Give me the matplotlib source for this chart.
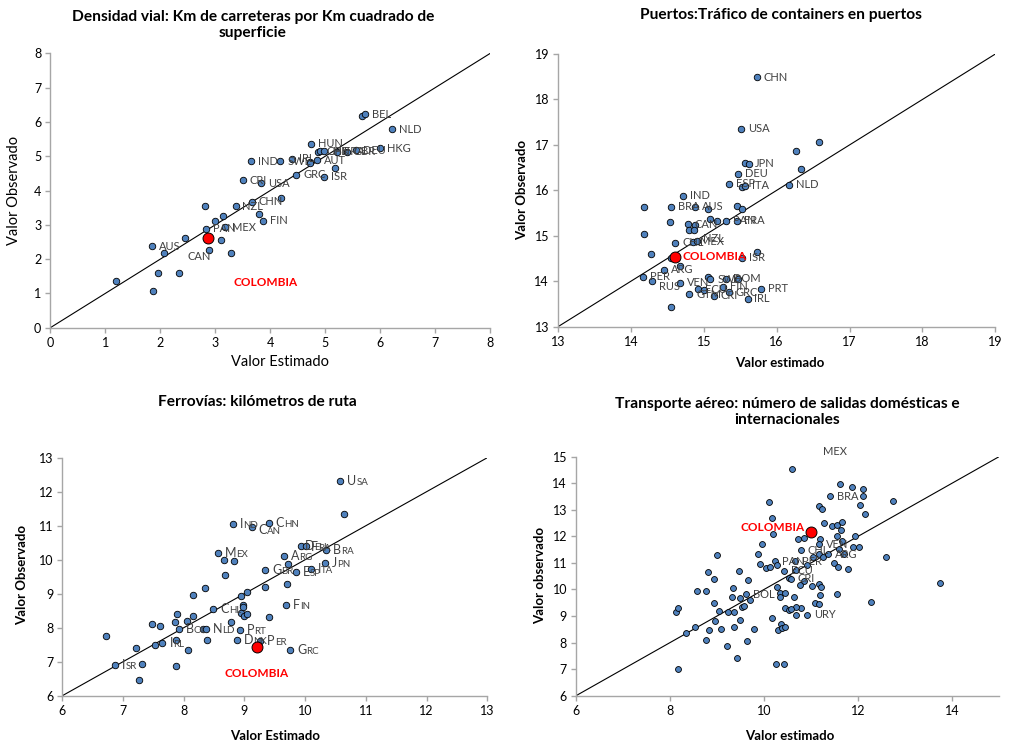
import matplotlib
matplotlib.use("Agg")
import matplotlib.pyplot as plt

plt.rcParams['font.family'] = ['Lato', 'DejaVu Sans']

# ---------------- Densidad vial ----------------
dv_x = [1.19, 1.86, 1.85, 1.95, 2.07, 2.34, 2.45, 2.81, 2.83, 2.89, 2.99, 3.10, 3.14, 3.18,
        3.28, 3.38, 3.50, 3.65, 3.67, 3.80, 3.86, 3.84, 4.20, 4.18, 4.40, 4.47, 4.72, 4.73,
        4.85, 4.98, 5.17, 4.74, 4.86, 4.90, 4.98, 5.22, 5.39, 5.56, 6.00, 5.67, 5.72, 6.21]
dv_y = [1.36, 1.07, 2.38, 1.59, 2.17, 1.59, 2.62, 3.54, 2.88, 2.27, 3.12, 2.55, 3.25, 2.93,
        2.18, 3.54, 4.30, 4.85, 3.66, 3.31, 3.12, 4.21, 3.79, 4.85, 4.92, 4.46, 4.84, 4.79,
        4.88, 4.40, 4.65, 5.36, 5.12, 5.15, 5.15, 5.13, 5.13, 5.18, 5.23, 6.17, 6.23, 5.78]
dv_lab = ['', '', 'AUS', '', '', '', '', '', 'PAN', 'CAN', '', '', '', 'MEX',
          '', '', 'CRI', 'IND', 'NZL', '', 'FIN', 'USA', 'CHN', 'SWE', 'IRL', 'GRC', '', '',
          'AUT', 'ISR', '', 'HUN', '', 'CHE', 'JPN', 'FRA', 'GBR', 'DEU', 'HKG', '', 'BEL', 'NLD']
dv_col = (2.86, 2.62)

# ---------------- Puertos ----------------
pu_x = [15.73, 15.51, 15.57, 15.62, 15.47, 15.34, 15.53, 15.57, 16.26, 16.58, 16.34, 16.17,
        14.71, 14.18, 14.55, 14.88, 15.06, 15.46, 15.53, 14.54, 14.78, 14.88, 14.80, 14.87,
        15.09, 15.18, 15.31, 15.46, 14.18, 14.61, 14.85, 14.90, 14.27, 14.55, 15.73, 15.52,
        14.67, 14.46, 14.16, 14.29, 14.67, 15.06, 15.09, 15.30, 15.47, 15.26, 14.92, 15.00,
        14.80, 15.14, 15.34, 15.78, 15.60, 14.55]
pu_y = [18.49, 17.35, 16.60, 16.58, 16.36, 16.14, 16.07, 16.10, 16.87, 17.07, 16.48, 16.12,
        15.88, 15.64, 15.64, 15.64, 15.59, 15.66, 15.60, 15.30, 15.25, 15.24, 15.13, 15.13,
        15.37, 15.33, 15.33, 15.33, 15.05, 14.85, 14.87, 14.89, 14.59, 14.52, 14.65, 14.52,
        14.34, 14.25, 14.10, 14.01, 13.97, 14.09, 14.04, 14.05, 14.06, 13.88, 13.82, 13.81,
        13.71, 13.68, 13.76, 13.84, 13.61, 13.43]
pu_lab = ['CHN', 'USA', '', 'JPN', 'DEU', 'ESP', '', 'ITA', '', '', '', 'NLD',
          'IND', '', 'BRA', 'AUS', '', '', '', '', 'CAN', '', '', '',
          '', '', 'PAN', 'FRA', '', 'CHL', 'MEX', 'NZL', '', '', '', 'ISR',
          '', 'ARG', 'PER', 'RUS', 'VEN', '', 'SWE', 'DOM', '', 'FIN', 'ECU', '',
          'GTM', 'CRI', 'GRC', 'PRT', 'IRL', '']
pu_col = (14.60, 14.54)

# ---------------- Ferrovías ----------------
fe_x = [6.72, 6.87, 7.22, 7.27, 7.31, 7.48, 7.53, 7.61, 7.65, 7.86, 7.89, 7.92, 7.88, 7.87,
        8.06, 8.07, 8.16, 8.16, 8.35, 8.32, 8.37, 8.38, 8.49, 8.56, 8.68, 8.67, 8.81, 8.83,
        8.78, 8.87, 8.92, 8.94, 8.98, 8.98, 8.95, 8.99, 9.04, 9.04, 9.12, 9.40, 9.26, 9.34,
        9.34, 9.40, 9.65, 9.72, 9.85, 10.09, 10.33, 9.70, 9.69, 9.75, 9.93, 10.01, 10.34,
        10.58, 10.64]
fe_y = [7.76, 6.90, 7.40, 6.45, 6.92, 8.12, 7.49, 8.04, 7.56, 8.18, 8.39, 7.95, 7.65, 6.88,
        8.20, 7.34, 8.95, 8.34, 9.16, 7.95, 7.96, 7.65, 8.56, 10.19, 9.55, 9.99, 11.05, 9.97,
        8.16, 7.65, 7.94, 8.94, 8.67, 8.60, 8.42, 8.34, 8.40, 9.06, 10.97, 11.08, 7.60, 9.69,
        9.21, 8.31, 10.12, 9.88, 9.63, 9.73, 9.89, 9.28, 8.68, 7.34, 10.41, 10.41, 10.29,
        12.32, 11.35]
fe_lab = ['', 'ISR', '', '', '', '', '', '', 'IRL', '', '', 'BOL', '', '',
          '', '', '', '', '', '', 'NLD', '', 'CHL', 'MEX', '', '', 'IND', '',
          '', 'DNK', 'PRT', '', '', '', '', '', '', '', 'CAN', 'CHN', 'PER', 'GBR',
          '', '', 'ARG', '', 'ESP', 'ITA', 'JPN', '', 'FIN', 'GRC', 'DEU', 'FRA', 'BRA',
          'USA', '']
fe_col = (9.20, 7.44)

# ---------------- Transporte aéreo ----------------
ae_x = [8.13, 8.18, 8.17, 8.33, 8.53, 8.58, 8.76, 8.77, 8.81, 8.84, 8.93, 8.94, 8.96, 9.00,
        9.04, 9.09, 9.21, 9.24, 9.32, 9.35, 9.36, 9.37, 9.42, 9.47, 9.49, 9.50, 9.53, 9.58,
        9.62, 9.64, 9.67, 9.70, 9.79, 9.87, 9.92, 9.96, 10.04, 10.10, 10.13, 10.16, 10.18,
        10.20, 10.23, 10.26, 10.27, 10.27, 10.30, 10.34, 10.34, 10.36, 10.38, 10.42, 10.43,
        10.44, 10.45, 10.45, 10.53, 10.54,
        10.60, 11.62, 11.87, 12.11, 12.10, 11.41, 12.74, 12.04, 11.18, 11.23, 12.15, 11.27,
        11.45, 11.55, 11.67, 11.64, 10.73, 10.86, 11.19, 11.56, 11.94, 11.67, 11.18, 11.60,
        11.90, 12.03, 10.78, 11.18, 11.26, 11.37, 11.71, 12.59, 11.04, 10.91, 10.67, 11.50,
        11.58, 11.79, 10.68, 10.57, 10.86, 10.77, 11.03, 11.16, 11.21, 11.19, 11.56, 12.28,
        13.75, 11.09, 11.18, 10.79, 10.68, 10.57, 10.92, 10.69, 10.64]
ae_y = [9.14, 9.31, 7.01, 8.37, 8.59, 9.95, 8.09, 9.93, 10.67, 8.46, 9.49, 10.41, 8.81, 11.31,
        9.18, 8.51, 7.88, 9.14, 9.72, 10.04, 9.15, 8.59, 7.41, 10.71, 9.68, 8.86, 9.35, 9.39,
        9.82, 8.06, 10.37, 9.62, 8.51, 11.35, 10.97, 11.70, 10.81, 13.28, 10.83, 12.68, 8.91,
        12.08, 11.07, 7.20, 10.08, 10.91, 8.49, 9.86, 9.72, 8.70, 8.54, 7.20, 10.71,
        8.57, 9.86, 9.31, 9.24, 10.42,
        14.55, 13.97, 13.87, 13.79, 13.53, 13.51, 13.34, 13.18, 13.15, 13.04, 12.84, 12.49,
        12.40, 12.41, 12.55, 12.25, 11.90, 11.94, 11.89, 12.01, 12.01, 11.84, 11.70, 11.54,
        11.61, 11.59, 11.47, 11.34, 11.21, 11.32, 11.34, 11.23, 11.23, 10.92, 11.06, 11.01,
        10.83, 10.76, 10.72, 10.41, 10.33, 10.18, 10.13, 10.19, 10.10, 9.79, 9.82, 9.54,
        10.24, 9.49, 9.44, 9.29, 9.35, 9.28, 9.05, 9.05, 9.73]
ae_lab = ['', '', '', '', '', '', '', '', '', '', '', '', '', '',
          '', '', '', '', '', '', '', '', '', '', '', '', '', '',
          'BOL', '', '', '', '', '', '', '', '', '', '', '', '',
          '', 'PAN', '', '', '', '', '', '', '', '', '', 'ECU',
          '', '', '', '', '',
          'MEX', '', '', '', '', 'BRA', '', '', '', '', '', '',
          '', '', '', '', '', '', '', '', '', '', 'VEN', '',
          '', '', 'CHL', '', '', 'ARG', '', '', '', '', 'PER', '',
          '', '', '', 'CRI', '', '', '', '', '', '', '', '',
          '', '', '', '', '', '', 'URY', '', '']
ae_col = (10.99, 12.17)

BLUE = '#4f81bd'
AXIS_GREY = '#a6a6a6'
LABEL_GREY = '#404040'

fig = plt.figure(figsize=(10.1, 7.46), dpi=100)


def make_axes(rect, lim, ticks, xlabel, ylabel, bold_labels, xl_pos, yl_pos):
    ax = fig.add_axes(rect)
    ax.set_xlim(*lim[0])
    ax.set_ylim(*lim[1])
    ax.set_xticks(ticks[0])
    ax.set_yticks(ticks[1])
    for s in ('top', 'right'):
        ax.spines[s].set_visible(False)
    for s in ('left', 'bottom'):
        ax.spines[s].set_color(AXIS_GREY)
        ax.spines[s].set_linewidth(1.0)
    ax.tick_params(direction='out', length=3.5, width=1.0, color=AXIS_GREY,
                   labelsize=9, labelcolor='#000000', pad=3)
    if bold_labels:
        kw = dict(fontsize=9.5, fontweight='bold')
    else:
        kw = dict(fontsize=10.5, fontweight='normal')
    ax.set_xlabel(xlabel, **kw)
    ax.set_ylabel(ylabel, **kw)
    ax.xaxis.set_label_coords(*xl_pos)
    ax.yaxis.set_label_coords(*yl_pos)
    ax.plot(lim[0], lim[0], color='black', lw=0.8, zorder=2)
    return ax


def draw_points(ax, xs, ys, col, size=22):
    ax.scatter(xs, ys, s=size, facecolor=BLUE, edgecolor='black', linewidth=0.6, zorder=3)
    ax.scatter([col[0]], [col[1]], s=62, facecolor='#ff0000', edgecolor='black',
               linewidth=0.7, zorder=5)


def draw_labels(ax, xs, ys, labs, custom, fs=8):
    for x, y, lab in zip(xs, ys, labs):
        if not lab:
            continue
        dx, dy, ha = custom.get(lab, (5, 0, 'left'))
        ax.annotate(lab, (x, y), xytext=(dx, dy), textcoords='offset points',
                    ha=ha, va='center', fontsize=fs, color=LABEL_GREY, zorder=4)


def draw_smallcap_labels(ax, xs, ys, labs, custom):
    for x, y, lab in zip(xs, ys, labs):
        if not lab:
            continue
        dx, dy = custom.get(lab, (5, 0))
        first = ax.annotate(lab[0], (x, y), xytext=(dx, dy), textcoords='offset points',
                            ha='left', va='center', fontsize=9, color=LABEL_GREY, zorder=4)
        ax.annotate(lab[1:], xy=(1, 0), xycoords=first, ha='left', va='bottom',
                    fontsize=7, color=LABEL_GREY, zorder=4)


def colombia(ax, pos, xytext, ha='center'):
    ax.annotate('COLOMBIA', pos, xytext=xytext, textcoords='offset points', ha=ha,
                va='center', fontsize=8.5, fontweight='bold', color='#ff0000', zorder=6)


# Densidad vial
ax1 = make_axes([0.0498, 0.5607, 0.4356, 0.3678], ((0, 8), (0, 8)),
                (range(0, 9), range(0, 9)), 'Valor Estimado', 'Valor Observado', False,
                (0.522, -0.100), (-0.067, 0.502))
draw_points(ax1, dv_x, dv_y, dv_col)
draw_labels(ax1, dv_x, dv_y, dv_lab,
            {'CAN': (1, -5, 'right'), 'NZL': (0, -3, 'center'), 'CHN': (1, -3, 'right')})
colombia(ax1, dv_col, (42, -32))

# Puertos
ax2 = make_axes([0.5525, 0.5621, 0.4330, 0.3655], ((13, 19), (13, 19)),
                (range(13, 20), range(13, 20)), 'Valor estimado', 'Valor Observado', True,
                (0.508, -0.111), (-0.069, 0.501))
draw_points(ax2, pu_x, pu_y, pu_col)
draw_labels(ax2, pu_x, pu_y, pu_lab,
            {'NZL': (5, 1.5, 'left'), 'RUS': (5, -4, 'left'), 'JPN': (4, 0, 'left')})
colombia(ax2, pu_col, (6, 0), ha='left')

# Ferrovías
ax3 = make_axes([0.0617, 0.0674, 0.4207, 0.3190], ((6, 13), (6, 13)),
                (range(6, 14), range(6, 14)), 'Valor Estimado', 'Valor Observado', True,
                (0.50, -0.144), (-0.081, 0.507))
draw_points(ax3, fe_x, fe_y, fe_col)
draw_smallcap_labels(ax3, fe_x, fe_y, fe_lab, {'CAN': (5, -2), 'DEU': (3, 0), 'FRA': (4, -1)})
colombia(ax3, fe_col, (0, -19))

# Transporte aéreo
ax4 = make_axes([0.5703, 0.0674, 0.4188, 0.3204], ((6, 15), (6, 15)),
                (range(6, 15, 2), range(6, 16)), 'Valor estimado', 'Valor observado', True,
                (0.506, -0.144), (-0.071, 0.505))
draw_points(ax4, ae_x, ae_y, ae_col, size=18)
draw_labels(ax4, ae_x, ae_y, ae_lab, {'MEX': (22, 12, 'left')})
colombia(ax4, ae_col, (-4, 3), ha='right')

# Titles
title_kw = dict(fontsize=11.2, fontweight='bold', ha='center', va='center', linespacing=1.27)
fig.text(253 / 1010, 1 - 25 / 746,
         'Densidad vial: Km de carreteras por Km cuadrado de\nsuperficie', **title_kw)
fig.text(781 / 1010, 1 - 15 / 746, 'Puertos:Tráfico de containers en puertos', **title_kw)
fig.text(257 / 1010, 1 - 402 / 746, 'Ferrovías: kilómetros de ruta', **title_kw)
fig.text(787 / 1010, 1 - 412 / 746,
         'Transporte aéreo: número de salidas domésticas e\ninternacionales', **title_kw)

fig.savefig('out.png', dpi=100)
